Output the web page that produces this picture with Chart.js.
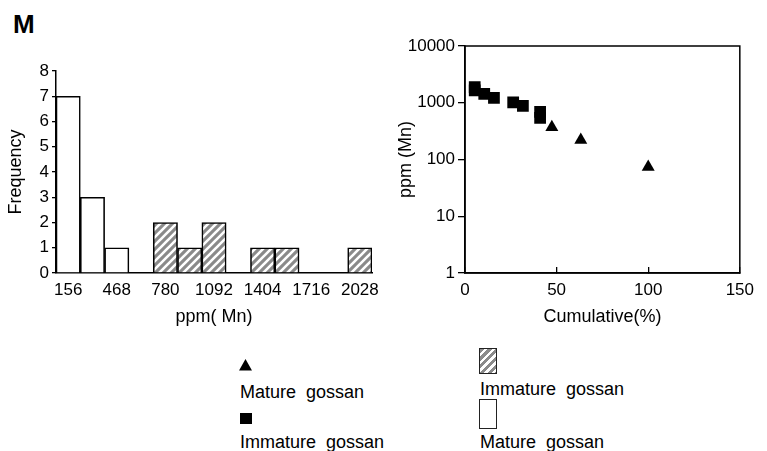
<!DOCTYPE html>
<html>
<head>
<meta charset="utf-8">
<script src="https://cdn.jsdelivr.net/npm/chart.js@4"></script>
<style>
  body { margin: 0; background: #fff; }
  #wrap { position: relative; width: 767px; height: 451px; overflow: hidden; font-family: "Liberation Sans", Arial, sans-serif; color: #000; }
  canvas { position: absolute; top: 0; }
  .lbl { position: absolute; font-size: 18px; line-height: 18px; white-space: pre; }
  .box { position: absolute; box-sizing: border-box; border: 1.3px solid #222; }
</style>
</head>
<body>
<div id="wrap">
  <div class="lbl" style="left:13px; top:11px; font-size:26px; line-height:26px; font-weight:bold;">M</div>
  <canvas id="histChart" width="400" height="330" style="left:0"></canvas>
  <canvas id="cumChart" width="377" height="330" style="left:390px"></canvas>

  <svg style="position:absolute; left:239px; top:359px" width="14" height="12"><polygon points="6.5,0 13,11.5 0,11.5" fill="#000"/></svg>
  <div class="lbl" style="left:240px; top:383px">Mature  gossan</div>
  <div style="position:absolute; left:240px; top:413px; width:12px; height:11px; background:#000"></div>
  <div class="lbl" style="left:240px; top:433px">Immature  gossan</div>

  <div class="box" style="left:479px; top:348px; width:18px; height:26px; background:repeating-linear-gradient(135deg, #8a8a8a 0 3px, #fff 3px 5.5px)"></div>
  <div class="lbl" style="left:480px; top:380px">Immature  gossan</div>
  <div class="box" style="left:479px; top:399px; width:18px; height:30px; background:#fff"></div>
  <div class="lbl" style="left:480px; top:433px">Mature  gossan</div>
</div>
<script>
// histogram bins (ppm Mn, bin centre) and frequencies
const binCenters = [156, 312, 468, 624, 780, 936, 1092, 1248, 1404, 1560, 1716, 1872, 2028];
const matureFreq   = [7, 3, 1, 0, 0, 0, 0, 0, 0, 0, 0, 0, 0];
const immatureFreq = [0, 0, 0, 0, 2, 1, 2, 0, 1, 1, 0, 0, 1];
const freqTicks = [0, 1, 2, 3, 4, 5, 6, 7, 8];

// cumulative plot
const immatureCum = [5.3, 5.3, 10.5, 15.8, 26.3, 31.6, 41, 41];
const immaturePpm = [1880, 1660, 1430, 1215, 1020, 880, 690, 540];
const matureCum = [47.4, 63.2, 100];
const maturePpm = [370, 220, 74];
const ppmTicks = [1, 10, 100, 1000, 10000];
const cumTicks = [0, 50, 100, 150];

Chart.defaults.font.family = '"Liberation Sans", Arial, sans-serif';
Chart.defaults.font.size = 17;
Chart.defaults.color = '#000';

function hatchPattern() {
    const c = document.createElement('canvas');
    c.width = 8; c.height = 8;
    const g = c.getContext('2d');
    g.fillStyle = '#8a8a8a';
    g.fillRect(0, 0, 8, 8);
    g.strokeStyle = '#fff';
    g.lineWidth = 2.6;
    g.beginPath();
    g.moveTo(-2, 10); g.lineTo(10, -2);
    g.moveTo(-6, 6); g.lineTo(6, -6);
    g.moveTo(2, 14); g.lineTo(14, 2);
    g.stroke();
    return g.createPattern(c, 'repeat');
}

const hctx = document.getElementById('histChart').getContext('2d');
new Chart(hctx, {
    type: 'bar',
    data: {
        labels: binCenters.map(String),
        datasets: [
            {
                label: 'Mature gossan',
                data: matureFreq.map(v => v || null),
                backgroundColor: '#fff',
                borderColor: '#000',
                borderWidth: 1.6,
                borderSkipped: 'start'
            },
            {
                label: 'Immature gossan',
                data: immatureFreq.map(v => v || null),
                backgroundColor: hatchPattern(),
                borderColor: '#000',
                borderWidth: 1.6,
                borderSkipped: 'start'
            }
        ]
    },
    options: {
        responsive: false,
        animation: false,
        layout: { padding: { left: 0, top: 71, right: 28, bottom: 2.5 } },
        plugins: { legend: { display: false }, tooltip: { enabled: false } },
        datasets: { bar: { barPercentage: 1, categoryPercentage: 1 } },
        scales: {
            x: {
                stacked: true,
                grid: { display: false, drawTicks: false },
                border: { display: true, color: '#000', width: 1.5 },
                ticks: {
                    autoSkip: false,
                    maxRotation: 0,
                    padding: 7,
                    callback: (v, i) => i % 2 === 0 ? String(binCenters[i]) : ''
                },
                title: { display: true, text: 'ppm( Mn)', font: { size: 18 }, padding: 0 },
                afterFit: s => { s.height = 54.5; }
            },
            y: {
                stacked: true,
                min: 0,
                max: 8,
                afterBuildTicks: s => { s.ticks = freqTicks.map(v => ({ value: v })); },
                grid: { display: true, drawOnChartArea: false, drawTicks: true, tickLength: 4, color: '#000', lineWidth: 1.3 },
                border: { display: true, color: '#000', width: 1.5 },
                ticks: { padding: 3 },
                title: { display: true, text: 'Frequency', font: { size: 18 }, padding: { top: 5 } },
                afterFit: s => { s.width = 56; }
            }
        }
    }
});

const framePlugin = {
    id: 'frame',
    beforeDatasetsDraw(chart) {
        const { ctx, chartArea: a } = chart;
        ctx.save();
        ctx.strokeStyle = '#000';
        ctx.lineWidth = 1.5;
        ctx.strokeRect(a.left, a.top, a.right - a.left, a.bottom - a.top);
        ctx.restore();
    }
};

const cctx = document.getElementById('cumChart').getContext('2d');
new Chart(cctx, {
    type: 'scatter',
    data: {
        datasets: [
            {
                label: 'Immature gossan',
                data: immatureCum.map((x, i) => ({ x: x, y: immaturePpm[i] })),
                pointStyle: 'rect',
                pointRadius: 8.3,
                backgroundColor: '#000',
                borderWidth: 0
            },
            {
                label: 'Mature gossan',
                data: matureCum.map((x, i) => ({ x: x, y: maturePpm[i] })),
                pointStyle: 'triangle',
                pointRadius: 7.5,
                backgroundColor: '#000',
                borderWidth: 0
            }
        ]
    },
    options: {
        responsive: false,
        animation: false,
        layout: { padding: { left: 0, top: 46, right: 15, bottom: 2.5 } },
        plugins: { legend: { display: false }, tooltip: { enabled: false } },
        scales: {
            x: {
                type: 'linear',
                min: 0,
                max: 150,
                afterBuildTicks: s => { s.ticks = cumTicks.map(v => ({ value: v })); },
                grid: { display: true, drawOnChartArea: false, drawTicks: true, tickLength: -6, color: '#000', lineWidth: 1.3 },
                border: { display: true, color: '#000', width: 1.5 },
                ticks: { padding: 13 },
                title: { display: true, text: 'Cumulative(%)', font: { size: 18 }, padding: 0 },
                afterFit: s => { s.height = 54.5; }
            },
            y: {
                type: 'logarithmic',
                min: 1,
                max: 10000,
                afterBuildTicks: s => { s.ticks = ppmTicks.map(v => ({ value: v })); },
                grid: { display: true, drawOnChartArea: false, drawTicks: true, tickLength: 7, color: '#000', lineWidth: 1.3 },
                border: { display: true, color: '#000', width: 1.5 },
                ticks: { padding: 3, callback: v => String(v) },
                title: { display: true, text: 'ppm (Mn)', font: { size: 18 }, padding: { top: 5 } },
                afterFit: s => { s.width = 75; }
            }
        }
    },
    plugins: [framePlugin]
});
</script>
</body>
</html>
